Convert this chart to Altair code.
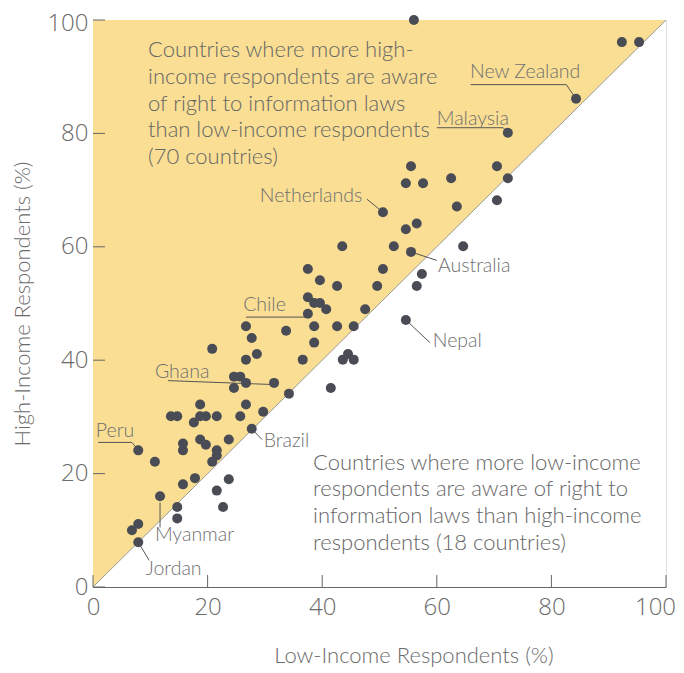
import altair as alt
import pandas as pd

# Data: low-income % (x), high-income % (y)
low = [56, 92.3, 95.3, 84.3, 72.4, 55.5, 54.6, 57.6, 62.5, 70.5, 63.5, 50.6, 56.5, 54.6, 52.5,
       55.5, 50.6, 43.5, 37.5, 39.6, 42.6, 49.6, 37.5, 38.6, 39.6, 40.7, 47.5, 37.5, 26.7, 38.6,
       42.6, 45.5, 33.7, 27.7, 38.6, 20.8, 28.6, 26.7, 36.6, 24.6, 25.7, 26.7, 31.6, 24.6, 34.2,
       18.7, 26.7, 29.7, 13.6, 14.7, 18.7, 19.7, 17.6, 21.6, 25.7, 27.7, 7.9, 15.7, 15.7, 18.7,
       19.7, 23.7, 21.6, 21.6, 20.8, 10.8, 17.8, 15.7, 11.7, 7.9, 6.8, 7.9,
       70.5, 72.4, 64.6, 57.4, 56.5, 54.6, 43.6, 44.5, 45.5, 41.5, 23.7, 21.6, 22.7, 14.7, 14.7]
high = [100, 96.1, 96.1, 86.1, 80.1, 74.2, 71.2, 71.2, 72.1, 74.2, 67.1, 66.1, 64.1, 63.1, 60.1,
        59.1, 56.1, 60.1, 56.1, 54.1, 53.1, 53.1, 51.1, 50.1, 50.1, 49.0, 49.0, 48.2, 46.0, 46.0,
        46.0, 46.0, 45.2, 43.9, 43.1, 42.0, 41.1, 40.1, 40.1, 37.1, 37.1, 36.0, 36.0, 35.1, 34.1,
        32.2, 32.2, 30.9, 30.1, 30.1, 30.1, 30.1, 29.0, 30.1, 30.1, 27.9, 24.1, 25.3, 24.1, 26.0,
        25.1, 26.0, 24.1, 23.2, 22.1, 22.1, 19.2, 18.1, 16.0, 11.1, 10.0, 7.9,
        68.2, 72.1, 60.1, 55.2, 53.1, 47.1, 40.1, 41.1, 40.1, 35.1, 19.0, 17.0, 14.1, 14.1, 12.1]

# Country labels and their leader lines
label_names = ["New Zealand", "Malaysia", "Netherlands", "Australia", "Nepal", "Chile",
               "Ghana", "Peru", "Brazil", "Myanmar", "Jordan"]
label_x = [65.8, 60.0, 29.1, 60.2, 59.3, 26.2, 10.8, 0.5, 29.8, 10.8, 9.2]
label_y = [90.9, 82.6, 68.9, 56.6, 43.4, 49.7, 38.0, 27.6, 25.8, 9.1, 3.2]

leader_x = [[65.9, 82.6, 84.3], [60.0, 71.6, 72.4], [47.8, 50.6], [60.0, 55.5], [58.8, 54.6],
            [26.7, 37.0, 37.5], [13.1, 31.6], [0.9, 6.8, 7.9], [27.7, 29.5], [11.7, 11.7],
            [7.9, 9.8]]
leader_y = [[88.6, 88.6, 86.1], [81.0, 81.0, 80.1], [68.4, 66.1], [57.6, 59.1], [43.1, 47.1],
            [47.6, 47.6, 48.2], [36.4, 35.7], [25.5, 25.5, 24.1], [27.9, 26.0], [14.9, 10.5],
            [7.9, 4.7]]

note_text = [
    "Countries where more high-\nincome respondents are aware\nof right to information laws\nthan low-income respondents\n(70 countries)",
    "Countries where more low-income\nrespondents are aware of right to\ninformation laws than high-income\nrespondents (18 countries)",
]
note_x = [9.6, 38.4]
note_y = [96.4, 23.65]

tick_values = [0, 20, 40, 60, 80, 100]

FONT = "Lato"
TICK_FONT = "Open Sans"
W, H = 573, 567
GRAY = "#6b6b6b"

xs = alt.Scale(domain=[0, 100], nice=False)
ys = alt.Scale(domain=[0, 100], nice=False)

pts = pd.DataFrame({"low": low, "high": high})
diag = pd.DataFrame({"low": [0, 100], "high": [0, 100], "top": [100, 100]})
labels = pd.DataFrame({"name": label_names, "x": label_x, "y": label_y})
rows = []
for n, lx, ly in zip(label_names, leader_x, leader_y):
    for i, (a, b) in enumerate(zip(lx, ly)):
        rows.append({"name": n, "i": i, "x": a, "y": b})
leaders = pd.DataFrame(rows)
notes = pd.DataFrame({"t": note_text, "x": note_x, "y": note_y})
ticks = pd.DataFrame({"v": tick_values})

x_axis = alt.Axis(values=tick_values, ticks=False, grid=False, labelFont=TICK_FONT, labelFontSize=24,
                  labelFontWeight=300, labelColor=GRAY, labelPadding=8, domainColor="#666",
                  labelFlush=False, labelOffset=alt.expr("datum.value == 100 ? -11 : 0"),
                  title="Low-Income Respondents (%)", titleFont=FONT, titleFontSize=22,
                  titleFontWeight=300, titleColor=GRAY, titlePadding=26, titleX=W / 2 + 34)
y_axis = alt.Axis(values=tick_values, ticks=False, grid=False, labelFont=TICK_FONT, labelFontSize=24,
                  labelFontWeight=300, labelColor=GRAY, labelPadding=5, domainColor="#666",
                  labelFlush=False, labelOffset=alt.expr("datum.value == 100 ? 3 : 0"),
                  title="High-Income Respondents (%)", titleFont=FONT, titleFontSize=22,
                  titleFontWeight=300, titleColor=GRAY, titlePadding=12)

area = alt.Chart(diag).mark_area(color="#F9DE93", opacity=1).encode(
    x=alt.X("low:Q", scale=xs, axis=x_axis),
    y=alt.Y("high:Q", scale=ys, axis=y_axis),
    y2="top:Q",
)
diag_line = alt.Chart(diag).mark_line(color="#9a9a9a", strokeWidth=1).encode(
    x=alt.X("low:Q", scale=xs), y=alt.Y("high:Q", scale=ys))

xt = alt.Chart(ticks).mark_rule(color="#666").encode(
    x=alt.X("v:Q", scale=xs), y=alt.value(H), y2=alt.value(H - 12))
yt = alt.Chart(ticks).mark_rule(color="#666").encode(
    y=alt.Y("v:Q", scale=ys), x=alt.value(0), x2=alt.value(12))

lead = alt.Chart(leaders).mark_line(color="#555", strokeWidth=1).encode(
    x=alt.X("x:Q", scale=xs), y=alt.Y("y:Q", scale=ys), detail="name:N", order="i:Q")

dots = alt.Chart(pts).mark_circle(size=100, color="#4a4c55", opacity=1).encode(
    x=alt.X("low:Q", scale=xs), y=alt.Y("high:Q", scale=ys))

lab = alt.Chart(labels).mark_text(align="left", baseline="middle", font=FONT, fontSize=19.5,
                                  fontWeight=300, color="#707070").encode(
    x=alt.X("x:Q", scale=xs), y=alt.Y("y:Q", scale=ys), text="name:N")

note = alt.Chart(notes).mark_text(align="left", baseline="top", font=FONT, fontSize=22,
                                  fontWeight=300, color="#666", lineBreak="\n",
                                  lineHeight=26.6).encode(
    x=alt.X("x:Q", scale=xs), y=alt.Y("y:Q", scale=ys), text="t:N")

chart = alt.layer(area, diag_line, xt, yt, lead, dots, lab, note).properties(
    width=W, height=H,
    autosize=alt.AutoSizeParams(type="none"),
    padding={"left": 85, "top": 12, "right": 10, "bottom": 86},
).configure_view(stroke=None).configure(background="white")

chart.save("out.html", embed_options={"renderer": "svg", "actions": False})
